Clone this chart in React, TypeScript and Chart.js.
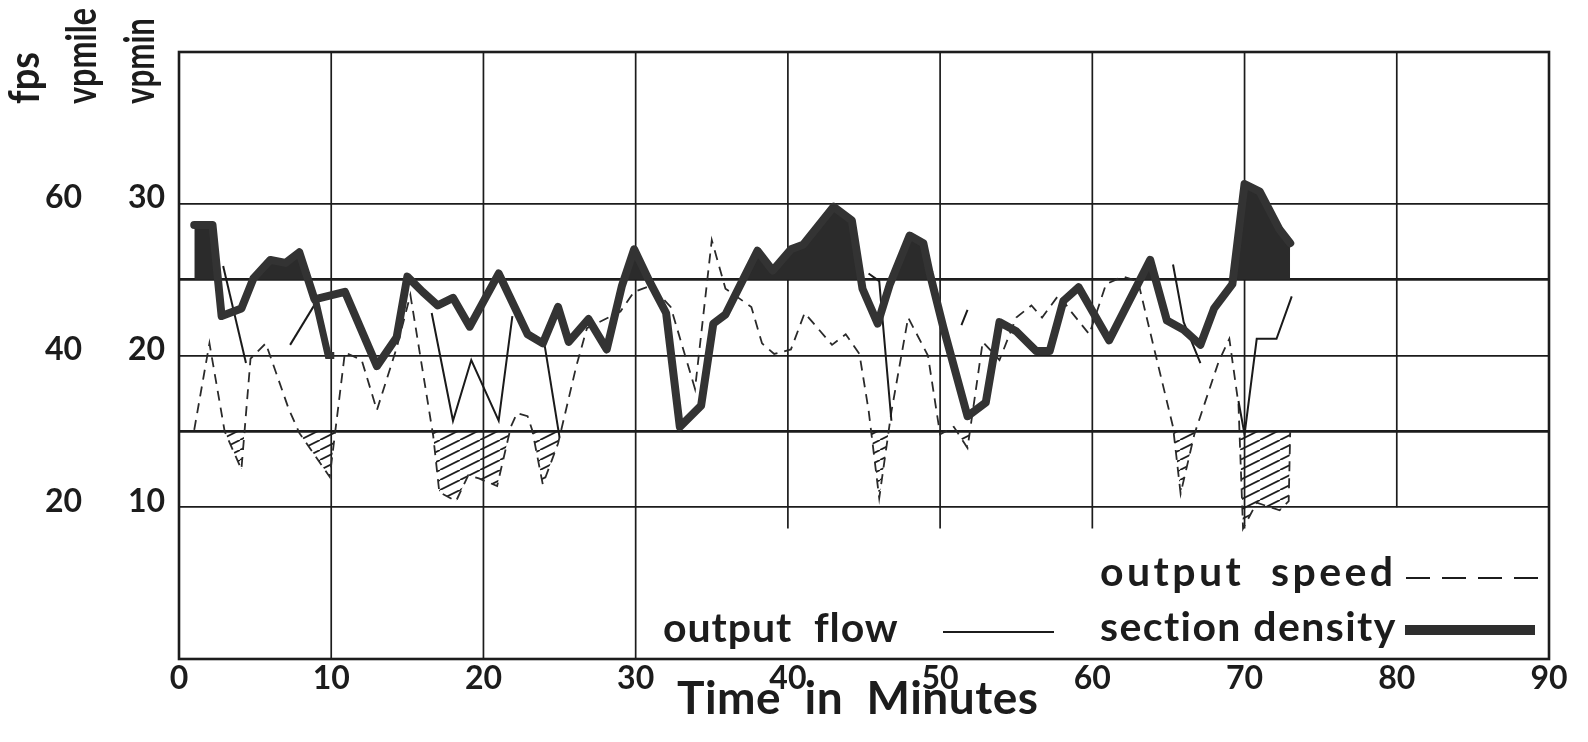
import React, { useEffect, useRef } from 'react';
import { Chart, registerables } from 'chart.js';

Chart.register(...registerables);

// ---- data (minutes, vpmin scale units) ----
const densityTime = [1.0, 2.2, 2.8, 4.1, 4.9, 6.0, 7.0, 7.9, 8.9, 10.9, 13.0, 14.3, 15.0, 16.0, 17.0, 18.0, 19.1, 21.0, 22.9, 23.9, 24.9, 25.6, 26.9, 28.1, 29.1, 29.9, 30.9, 32.0, 32.9, 34.3, 35.1, 35.9, 37.0, 38.0, 39.0, 40.2, 41.0, 43.0, 44.2, 44.9, 45.9, 46.7, 48.0, 48.9, 49.3, 50.2, 51.8, 53.0, 53.9, 55.0, 56.3, 57.2, 58.1, 59.1, 61.1, 63.8, 64.9, 66.0, 67.1, 68.0, 69.2, 70.0, 71.0, 72.3, 73.0];
const densityValue = [28.6, 28.6, 22.6, 23.1, 25.1, 26.3, 26.1, 26.8, 23.7, 24.2, 19.3, 21.2, 25.2, 24.2, 23.3, 23.8, 21.9, 25.4, 21.4, 20.8, 23.2, 20.9, 22.4, 20.4, 24.6, 27.0, 24.9, 22.8, 15.3, 16.7, 22.1, 22.7, 24.9, 26.9, 25.6, 27.0, 27.3, 29.8, 28.9, 24.4, 22.1, 24.7, 27.9, 27.4, 25.5, 21.9, 16.0, 16.9, 22.2, 21.6, 20.3, 20.3, 23.6, 24.5, 21.0, 26.3, 22.3, 21.7, 20.7, 23.1, 24.7, 31.3, 30.8, 28.3, 27.4];

const speedTime = [1.0, 2.0, 3.0, 4.1, 4.7, 5.7, 7.2, 7.9, 9.9, 10.9, 12.0, 13.0, 14.3, 15.2, 16.7, 17.1, 18.2, 19.0, 19.7, 20.9, 21.8, 22.2, 22.9, 23.2, 23.9, 24.9, 26.1, 26.8, 29.0, 29.9, 31.0, 32.3, 33.9, 35.0, 35.9, 37.6, 38.3, 39.1, 40.2, 41.1, 42.9, 43.8, 44.7, 45.3, 46.0, 46.8, 47.9, 49.2, 50.0, 50.9, 51.8, 52.8, 53.9, 55.0, 56.0, 56.7, 57.8, 58.6, 59.8, 60.9, 62.0, 63.0, 64.0, 65.3, 65.8, 66.7, 68.3, 69.0, 69.6, 69.9, 70.8, 71.7, 72.3, 72.9, 73.0];
const speedValue = [15.1, 20.8, 15.0, 12.5, 19.8, 20.8, 16.5, 14.9, 12.0, 20.2, 19.7, 16.4, 20.5, 24.0, 14.7, 11.0, 10.4, 12.1, 11.9, 11.4, 15.3, 16.2, 16.0, 15.1, 11.5, 14.2, 19.3, 21.8, 22.9, 24.2, 24.6, 23.2, 17.8, 27.6, 24.4, 23.2, 20.8, 20.1, 20.4, 22.8, 20.7, 21.4, 20.1, 16.4, 10.6, 16.3, 22.5, 20.0, 14.8, 15.3, 13.9, 20.9, 19.7, 22.5, 23.3, 22.5, 24.0, 22.9, 21.4, 24.7, 25.2, 24.9, 20.7, 15.3, 10.9, 14.8, 19.6, 21.1, 16.8, 8.6, 10.3, 10.0, 9.8, 10.4, 15.0];

const flowTime = [2.9, 4.4, 5.0, 7.3, 9.0, 9.8, 10.2, 12.0, 16.6, 18.0, 19.2, 21.0, 21.9, 23.0, 24.0, 25.0, 27.0, 45.3, 46.0, 46.8, 48.0, 51.4, 51.8, 55.0, 65.3, 66.0, 67.1, 68.0, 69.6, 70.0, 70.8, 72.1, 73.1];
const flowValue = [25.9, 19.5, null, 20.7, 23.5, 20.0, 20.0, null, 22.8, 15.7, 19.7, 15.7, 22.6, null, 20.8, 14.6, null, 25.4, 24.9, 15.7, null, 22.0, 23.0, null, 26.0, 22.2, 19.5, null, 17.0, 14.8, 21.1, 21.1, 23.9];

const vpminGrid = [0, 10, 15, 20, 25, 30, 40];
const vpminLabels = [10, 20, 30];
const fpsLabels = [20, 40, 60];
const minuteGrid = [10, 20, 30, 40, 50, 60, 70, 80];
const gridStop: Record<number, number> = { 40: 8.6, 50: 8.6, 60: 8.6, 70: 8.6, 80: 10 };

const speedThreshold = 15;
const densityThreshold = 25;

const FONT = 'Lato, "Open Sans", "DejaVu Sans", sans-serif';
const INK = '#1c1c1c';

function fitText(ctx: CanvasRenderingContext2D, text: string, x: number, y: number, width: number) {
  const c: any = ctx;
  c.letterSpacing = '0px';
  const w = ctx.measureText(text).width;
  const ls = text.length > 1 ? (width - w) / (text.length - 1) : 0;
  c.letterSpacing = ls.toFixed(2) + 'px';
  ctx.textAlign = 'left';
  ctx.fillText(text, x, y);
  c.letterSpacing = '0px';
}

function scaledText(ctx: CanvasRenderingContext2D, text: string, width: number) {
  const c: any = ctx;
  c.letterSpacing = '0px';
  const w = ctx.measureText(text).width;
  ctx.save();
  ctx.scale(width / w, 1);
  ctx.textAlign = 'left';
  ctx.fillText(text, 0, 0);
  ctx.restore();
}

const decor = {
  id: 'decor',
  beforeDatasetsDraw(chart: any) {
    const { ctx, chartArea: a, scales } = chart;
    const x = scales.x;
    const y = scales.y;
    ctx.save();
    ctx.strokeStyle = INK;
    ctx.lineWidth = 1.7;
    for (const t of minuteGrid) {
      const px = x.getPixelForValue(t);
      const stop = gridStop[t] ?? 0;
      ctx.beginPath();
      ctx.moveTo(px, a.top);
      ctx.lineTo(px, y.getPixelForValue(stop));
      ctx.stroke();
    }
    ctx.restore();
  },
  afterDraw(chart: any) {
    const { ctx, chartArea: a } = chart;
    ctx.save();
    // frame
    ctx.strokeStyle = INK;
    ctx.lineWidth = 2.6;
    ctx.strokeRect(a.left, a.top, a.right - a.left, a.bottom - a.top);

    ctx.fillStyle = INK;
    ctx.textBaseline = 'alphabetic';
    // legend
    ctx.font = `bold 41px ${FONT}`;
    fitText(ctx, 'output  speed', 1100, 586, 293);
    fitText(ctx, 'output  flow', 663, 642, 235);
    fitText(ctx, 'section density', 1100, 641, 296);
    ctx.lineWidth = 2;
    ctx.setLineDash([24, 12]);
    ctx.beginPath();
    ctx.moveTo(1406, 578);
    ctx.lineTo(1546, 578);
    ctx.stroke();
    ctx.setLineDash([]);
    ctx.beginPath();
    ctx.moveTo(943, 632);
    ctx.lineTo(1054, 632);
    ctx.stroke();
    ctx.fillStyle = '#2e2e2e';
    ctx.fillRect(1405, 625, 130, 10);

    // axis title
    ctx.fillStyle = INK;
    ctx.font = `bold 46px ${FONT}`;
    fitText(ctx, 'Time  in  Minutes', 677, 714, 361);

    // rotated unit labels
    ctx.font = `bold 42px ${FONT}`;
    ctx.textBaseline = 'middle';
    const rot = (text: string, cx: number, bottom: number, len: number) => {
      ctx.save();
      ctx.translate(cx, bottom);
      ctx.rotate(-Math.PI / 2);
      scaledText(ctx, text, len);
      ctx.restore();
    };
    rot('fps', 25, 104, 52);
    rot('vpmile', 82, 104, 96);
    rot('vpmin', 140, 104, 86);
    ctx.restore();
  },
};

export default function App() {
  const ref = useRef<HTMLCanvasElement | null>(null);

  useEffect(() => {
    const canvas = ref.current;
    if (!canvas) return;
    const ctx = canvas.getContext('2d')!;

    const tile = document.createElement('canvas');
    tile.width = 20;
    tile.height = 10;
    const tc = tile.getContext('2d')!;
    tc.strokeStyle = '#1e1e1e';
    tc.lineWidth = 1.8;
    for (const dx of [-20, 0, 20]) {
      tc.beginPath();
      tc.moveTo(dx, 10);
      tc.lineTo(dx + 20, 0);
      tc.stroke();
    }
    const hatch = ctx.createPattern(tile, 'repeat') as CanvasPattern;

    const pts = (xs: number[], ys: (number | null)[]) => xs.map((t, i) => ({ x: t, y: ys[i] }));

    const chart = new Chart(canvas, {
      type: 'line',
      data: {
        datasets: [
          {
            label: 'section density',
            data: pts(densityTime, densityValue),
            borderColor: '#333',
            borderWidth: 8,
            borderJoinStyle: 'round',
            borderCapStyle: 'round',
            pointRadius: 0,
            tension: 0,
            fill: { target: { value: densityThreshold }, above: '#2b2b2b', below: 'rgba(0,0,0,0)' },
          },
          {
            label: 'output flow',
            data: pts(flowTime, flowValue),
            borderColor: '#1a1a1a',
            borderWidth: 2,
            pointRadius: 0,
            tension: 0,
            spanGaps: false,
            fill: false,
            segment: {
              borderWidth: (c: any) => (c.p0.parsed.x >= 8.95 && c.p1.parsed.x <= 10.3 ? 7 : 2),
              borderColor: (c: any) => (c.p0.parsed.x >= 8.95 && c.p1.parsed.x <= 10.3 ? '#333' : '#1a1a1a'),
            },
          },
          {
            label: 'output speed',
            data: pts(speedTime, speedValue),
            borderColor: '#2a2a2a',
            borderWidth: 1.8,
            borderDash: [10, 7],
            pointRadius: 0,
            tension: 0,
            fill: { target: { value: speedThreshold }, above: 'rgba(0,0,0,0)', below: hatch },
          },
        ] as any,
      },
      options: {
        animation: false,
        responsive: false,
        devicePixelRatio: 1,
        events: [],
        layout: { padding: { top: 52, right: 39, left: 0, bottom: 0 } },
        plugins: {
          legend: { display: false },
          tooltip: { enabled: false },
          filler: { propagate: false },
        },
        scales: {
          x: {
            type: 'linear',
            min: 0,
            max: 90,
            position: 'bottom',
            grid: { display: false, drawTicks: false },
            border: { display: false },
            ticks: {
              stepSize: 10,
              autoSkip: false,
              maxRotation: 0,
              padding: 0,
              color: INK,
              font: { family: FONT, size: 32, weight: 'bold' },
            },
            afterFit: (s: any) => {
              s.height = 83;
            },
          },
          y: {
            type: 'linear',
            position: 'left',
            weight: 0,
            min: 0,
            max: 40,
            grid: {
              color: INK,
              drawTicks: false,
              lineWidth: (c: any) => (c.tick && (c.tick.value === 15 || c.tick.value === 25) ? 2.8 : 1.7),
            },
            border: { display: false },
            afterBuildTicks: (axis: any) => {
              axis.ticks = vpminGrid.map((v) => ({ value: v }));
            },
            ticks: {
              autoSkip: false,
              padding: 14,
              labelOffset: -6,
              color: INK,
              font: { family: FONT, size: 32, weight: 'bold' },
              callback: (v: any) => (vpminLabels.includes(Number(v)) ? String(v) : ''),
            },
            afterFit: (s: any) => {
              s.width = 79;
            },
          },
          fps: {
            type: 'linear',
            position: 'left',
            weight: 1,
            min: 0,
            max: 80,
            grid: { display: false, drawTicks: false },
            border: { display: false },
            afterBuildTicks: (axis: any) => {
              axis.ticks = fpsLabels.map((v) => ({ value: v }));
            },
            ticks: {
              autoSkip: false,
              padding: 18,
              labelOffset: -6,
              color: INK,
              font: { family: FONT, size: 32, weight: 'bold' },
            },
            afterFit: (s: any) => {
              s.width = 100;
            },
          },
        },
      } as any,
      plugins: [decor as any],
    });

    return () => chart.destroy();
  }, []);

  return (
    <div style={{ position: 'fixed', left: 0, top: 0, width: 1588, height: 742, background: '#fff' }}>
      <canvas ref={ref} width={1588} height={742} style={{ display: 'block' }} />
    </div>
  );
}
